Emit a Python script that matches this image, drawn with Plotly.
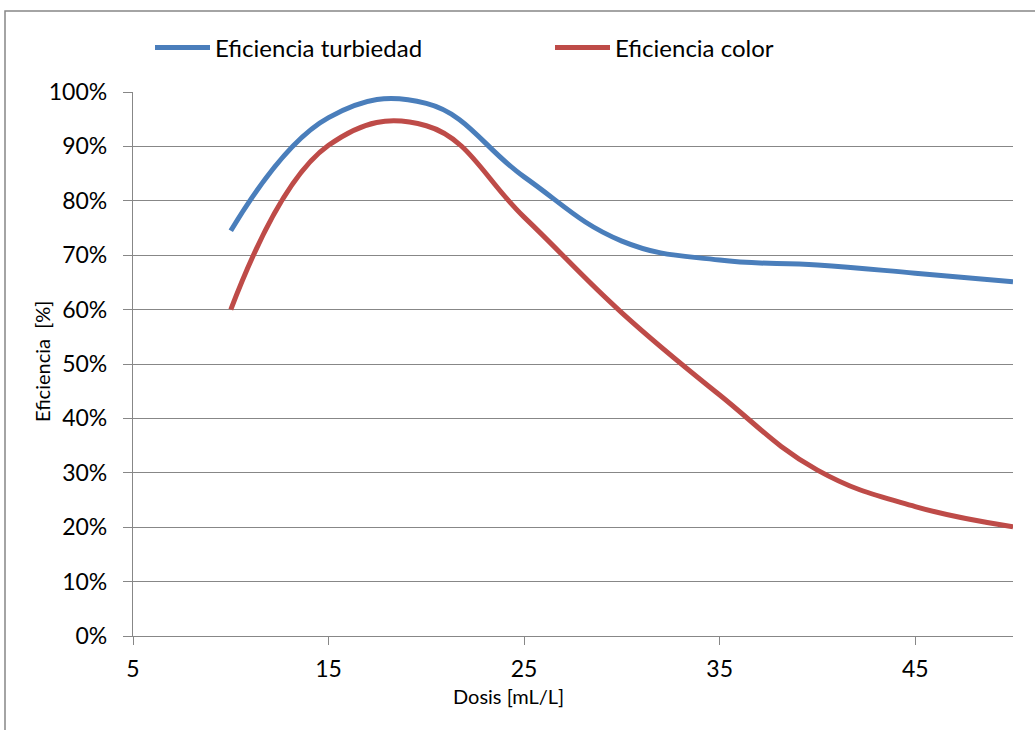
import plotly.graph_objects as go

# Dose (mL/L) and removal efficiency (fraction)
dosis = [10, 15, 20, 25, 30, 35, 40, 45, 50]
ef_turbiedad = [0.745, 0.953, 0.979, 0.844, 0.726, 0.691, 0.682, 0.667, 0.651]
ef_color = [0.600, 0.902, 0.938, 0.770, 0.594, 0.443, 0.305, 0.238, 0.201]

x_ticks = [5, 15, 25, 35, 45]
y_ticks = [0, 0.1, 0.2, 0.3, 0.4, 0.5, 0.6, 0.7, 0.8, 0.9, 1.0]

W, H = 1035, 730
L, R, T, B = 133, 22, 92, 94
PW, PH = W - L - R, H - T - B

def px_x(p):
    return (p - L) / PW

def px_y(p):
    return (H - B - p) / PH

FONT = "Lato, 'Open Sans', sans-serif"
GRID = "#878787"

fig = go.Figure()
fig.add_trace(go.Scatter(
    x=dosis, y=ef_turbiedad, mode="lines", name="Eficiencia turbiedad",
    line=dict(color="#4A7EBB", width=5, shape="spline", smoothing=1.2),
))
fig.add_trace(go.Scatter(
    x=dosis, y=ef_color, mode="lines", name="Eficiencia color",
    line=dict(color="#BE4B48", width=5, shape="spline", smoothing=1.2),
))

fig.update_layout(
    width=W, height=H,
    margin=dict(l=L, r=R, t=T, b=B),
    paper_bgcolor="white", plot_bgcolor="white",
    font=dict(family=FONT, size=23, color="#000000"),
    showlegend=True,
    legend=dict(
        orientation="h", x=px_x(150), y=px_y(48), xanchor="left", yanchor="middle",
        font=dict(family=FONT, size=24, color="#000000"),
        itemwidth=55, entrywidth=330, bgcolor="rgba(0,0,0,0)",
    ),
    xaxis=dict(
        range=[5, 50], tickvals=x_ticks, ticktext=[str(v) for v in x_ticks],
        showgrid=False, zeroline=False,
        showline=True, linecolor=GRID, linewidth=1.3,
        ticks="outside", ticklen=8, tickcolor=GRID, tickwidth=1.3,
        tickfont=dict(family=FONT, size=23), ticklabelstandoff=4,
    ),
    yaxis=dict(
        range=[0, 1.0], tickvals=y_ticks, tickformat=".0%",
        showgrid=True, gridcolor=GRID, gridwidth=1.3, zeroline=False,
        showline=True, linecolor=GRID, linewidth=1.3,
        ticks="outside", ticklen=9, tickcolor=GRID, tickwidth=1.3,
        tickfont=dict(family=FONT, size=23), ticklabelstandoff=11,
    ),
    annotations=[
        dict(text="Dosis [mL/L]", xref="paper", yref="paper",
             x=px_x(508), y=px_y(696), xanchor="center", yanchor="middle",
             showarrow=False, font=dict(family=FONT, size=20)),
        dict(text="Eficiencia  [%]", xref="paper", yref="paper",
             x=px_x(42), y=px_y(362), xanchor="center", yanchor="middle",
             textangle=-90, showarrow=False, font=dict(family=FONT, size=20)),
    ],
    shapes=[
        dict(type="rect", xref="paper", yref="paper",
             x0=px_x(5), x1=px_x(1045), y0=px_y(745), y1=px_y(11),
             line=dict(color=GRID, width=1.5), fillcolor="rgba(0,0,0,0)",
             layer="below"),
    ],
)

fig.write_html("out.html")
